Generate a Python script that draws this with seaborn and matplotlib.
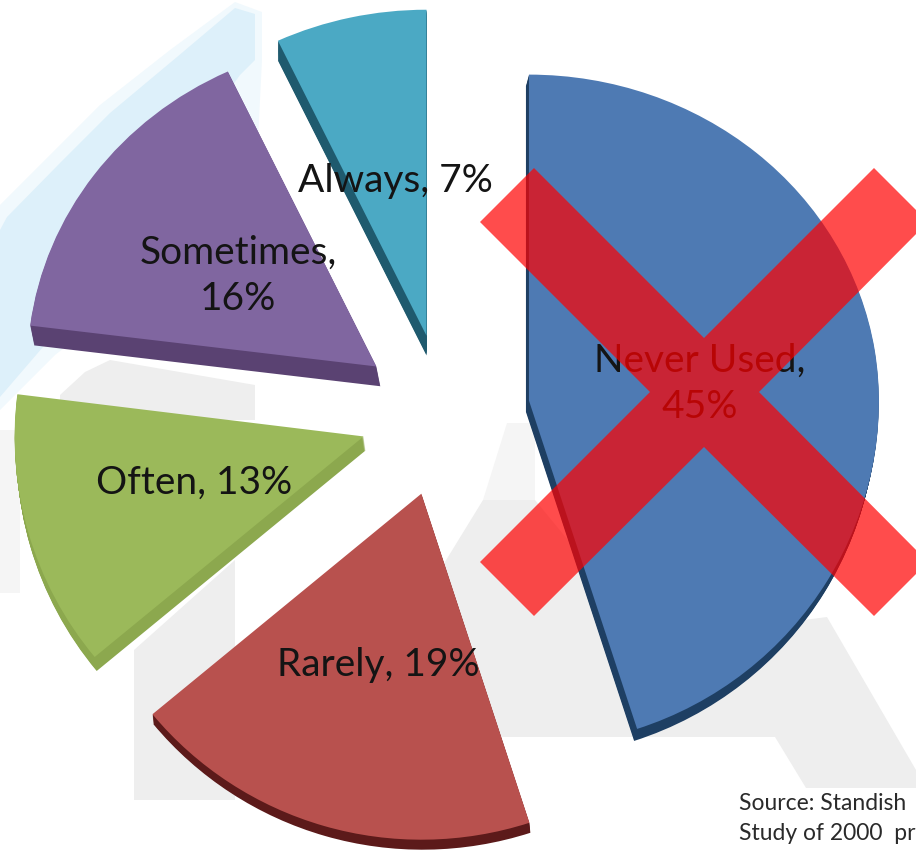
import matplotlib
matplotlib.use('Agg')
import numpy as np
import seaborn as sns
import matplotlib.pyplot as plt
from matplotlib.patches import Polygon

categories = ['Never Used', 'Rarely', 'Often', 'Sometimes', 'Always']
shares = [45, 19, 13, 16, 7]

top_colors = ['#4E7AB3', '#B8514E', '#9BB95A', '#8066A0', '#4BA9C4']
side_colors = ['#1E3F63', '#5C1A1A', '#8CA84E', '#5A4272', '#1F5A6E']
side_depth = [12, 10, 14, 21, 21]
side_shift = [-3, 1, 2, 4, 0]

source_lines = ['Source: Standish', 'Study of 2000  pr']

# pixel size of the picture and where the pie sits in it
fig_w, fig_h = 916, 852
pie_cx, pie_cy = 445, 413
# the pie is tilted: the near half comes out taller than the far half
rad_left, rad_right = 349, 350
rad_far, rad_near = 326, 346
explode_px = 85

# label centres in pixels
label_pos = {
    'Never Used': (700, 384),
    'Rarely': (378, 665),
    'Often': (194, 483),
    'Sometimes': (238, 276),
    'Always': (395, 181),
}
two_line = ['Never Used', 'Sometimes']

sns.set_theme(style='white')
plt.rcParams['font.family'] = ['Lato', 'DejaVu Sans']

fig = plt.figure(figsize=(fig_w / 100, fig_h / 100), dpi=100)

# washed out leftovers of the slide background
bg = fig.add_axes([0, 0, 1, 1])
bg.set_xlim(0, fig_w)
bg.set_ylim(fig_h, 0)
bg.axis('off')

blue_halo = [(262, 12), (235, 2), (170, 50), (100, 105), (50, 155), (0, 205), (0, 410), (55, 355), (255, 200), (262, 60)]
blue_wash = [(255, 14), (235, 8), (177, 57), (110, 113), (60, 163), (7, 217), (0, 230), (0, 397), (43, 347), (240, 75), (255, 60)]
grey_wash = [
    [(60, 395), (85, 372), (110, 360), (255, 385), (255, 420), (60, 420)],
    [(134, 650), (235, 560), (235, 800), (134, 800)],
    [(440, 570), (483, 500), (535, 500), (650, 640), (827, 617), (916, 770),
     (916, 788), (806, 788), (775, 737), (470, 737)],
]
pale_wash = [
    [(0, 430), (20, 430), (20, 593), (0, 593)],
    [(483, 500), (507, 423), (535, 423), (535, 500)],
]
bg.add_patch(Polygon(blue_halo, color='#F1F9FD', lw=0))
bg.add_patch(Polygon(blue_wash, color='#DDF0FA', lw=0))
for poly in pale_wash:
    bg.add_patch(Polygon(poly, color='#F5F5F5', lw=0))
for poly in grey_wash:
    bg.add_patch(Polygon(poly, color='#EEEEEE', lw=0))

ax = fig.add_axes([0, 0, 1, 1])
explode = [explode_px / rad_right] * len(shares)

# stacked copies give the extruded side of each slice
for d in range(max(side_depth), 0, -1):
    wedges, _ = ax.pie(shares, explode=explode, colors=sns.color_palette(side_colors),
                       startangle=90, counterclock=False, center=(0, -d / rad_near),
                       wedgeprops={'linewidth': 0})
    for w, depth, shift in zip(wedges, side_depth, side_shift):
        w.set_visible(d <= depth)
        cx, cy = w.center
        w.set_center((cx + shift * d / depth / rad_right, cy))

ax.pie(shares, explode=explode, colors=sns.color_palette(top_colors),
       startangle=90, counterclock=False, wedgeprops={'linewidth': 0})


def two_sided(low, high):
    fwd = lambda v: np.where(v < 0, v * low, v * high)
    inv = lambda v: np.where(v < 0, v / low, v / high)
    return fwd, inv


ax.set_aspect('auto')
ax.set_xscale('function', functions=two_sided(rad_left, rad_right))
ax.set_yscale('function', functions=two_sided(rad_near, rad_far))
ax.set_xlim(-pie_cx / rad_left, (fig_w - pie_cx) / rad_right)
ax.set_ylim((pie_cy - fig_h) / rad_near, pie_cy / rad_far)
ax.axis('off')

top = fig.add_axes([0, 0, 1, 1])
top.set_xlim(0, fig_w)
top.set_ylim(fig_h, 0)
top.axis('off')

for cat, val in zip(categories, shares):
    sep = ',\n' if cat in two_line else ', '
    x, y = label_pos[cat]
    top.text(x, y, f'{cat}{sep}{val}%', fontsize=28, color='#141414', ha='center', va='center',
             linespacing=1.36, multialignment='center', zorder=3)

for i, line in enumerate(source_lines):
    top.text(739, 803 + i * 31, line, fontsize=16.5, color='#2A2A2A', ha='left', va='center')

# the big red cross over the largest slice, on top of its label
cross = [(534, 168), (704, 338), (874, 168), (928, 222), (759, 392), (928, 562),
         (874, 616), (704, 447), (534, 616), (480, 562), (650, 392), (480, 222)]
top.add_patch(Polygon(cross, color='#FF0000', alpha=0.7, lw=0, zorder=5))

fig.savefig('out.png', dpi=100)
